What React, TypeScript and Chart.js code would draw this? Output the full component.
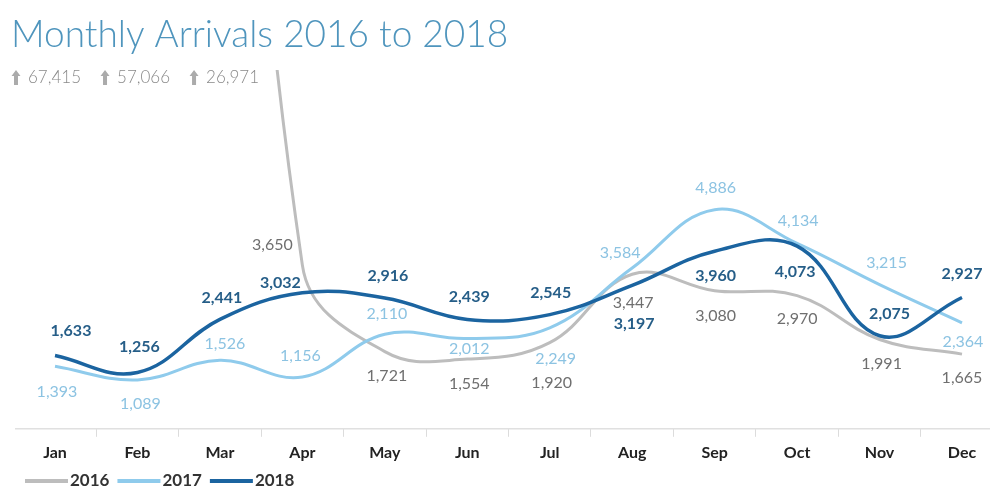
import React, { useEffect, useRef } from 'react';
import { Chart, registerables } from 'chart.js';

Chart.register(...registerables);

// ---- data ----
const months = ['Jan', 'Feb', 'Mar', 'Apr', 'May', 'Jun', 'Jul', 'Aug', 'Sep', 'Oct', 'Nov', 'Dec'];
const seriesNames = ['2016', '2017', '2018'];
const arrivals2016 = [67415, 57066, 26971, 3650, 1721, 1554, 1920, 3447, 3080, 2970, 1991, 1665];
const arrivals2017 = [1393, 1089, 1526, 1156, 2110, 2012, 2249, 3584, 4886, 4134, 3215, 2364];
const arrivals2018 = [1633, 1256, 2441, 3032, 2916, 2439, 2545, 3197, 3960, 4073, 2075, 2927];
const yMin = 0;
const yMax = 8000;
const titleText = 'Monthly Arrivals 2016 to 2018';

// ---- label placement (relative offsets from each point) ----
const labelOffsets2016: [number, number][] = [
  [0, 0], [0, 0], [0, 0], [-30, -20], [2, 24], [2, 25], [2, 40], [1, 29], [1, 25], [0, 23], [2, 24], [0, 24],
];
const labelOffsets2017: [number, number][] = [
  [2, 26], [3, 24], [5, -17], [-2, -21], [2, -20], [2, 10], [6, 31], [-12, -15], [1, -22], [1, -23], [7, -22], [1, 19],
];
const labelOffsets2018: [number, number][] = [
  [16, -25], [2, -26], [2, -21], [-22, -10], [3, -22], [2, -23], [1, -22], [2, 38], [1, 25], [-2, 26], [10, -22], [0, -24],
];

const lineColors = ['#bdbdbd', '#8fcbec', '#1b64a0'];
const labelColors = ['#6f6f6f', '#8cc3e2', '#265e88'];
const labelWeights = ['400', '400', '700'];
const lineWidths = [3, 3, 3.5];
const allOffsets = [labelOffsets2016, labelOffsets2017, labelOffsets2018];

const fmt = (v: number) => v.toLocaleString('en-US');

const decorPlugin = {
  id: 'decor',
  beforeDraw(chart: any) {
    const { ctx, width, height } = chart;
    ctx.save();
    ctx.fillStyle = '#ffffff';
    ctx.fillRect(0, 0, width, height);
    ctx.restore();
  },
  beforeDatasetsDraw(chart: any) {
    const { ctx, chartArea } = chart;
    ctx.save();
    ctx.strokeStyle = '#e0e0e0';
    ctx.lineWidth = 1.5;
    ctx.beginPath();
    ctx.moveTo(15, chartArea.bottom);
    ctx.lineTo(990, chartArea.bottom);
    ctx.stroke();
    ctx.restore();
  },
  afterDatasetsDraw(chart: any) {
    const { ctx } = chart;
    ctx.save();
    // title
    ctx.font = '300 37px Lato';
    ctx.fillStyle = '#4f95bd';
    ctx.textAlign = 'left';
    ctx.textBaseline = 'alphabetic';
    ctx.fillText(titleText, 11, 47);

    // off-chart values (above the axis maximum) shown with up arrows
    const yScale = chart.scales.y;
    let ax = 12;
    const ay = 78;
    chart.data.datasets.forEach((ds: any) => {
      ds.data.forEach((v: number) => {
        if (v > yScale.max) {
          ctx.fillStyle = '#ababab';
          ctx.beginPath();
          ctx.moveTo(ax + 4, ay - 8);
          ctx.lineTo(ax + 8.5, ay - 2);
          ctx.lineTo(ax + 6, ay - 2);
          ctx.lineTo(ax + 6, ay + 7);
          ctx.lineTo(ax + 2, ay + 7);
          ctx.lineTo(ax + 2, ay - 2);
          ctx.lineTo(ax - 0.5, ay - 2);
          ctx.closePath();
          ctx.fill();
          ctx.font = '300 17px Lato';
          ctx.fillStyle = '#8a8a8a';
          ctx.textBaseline = 'middle';
          const t = fmt(v);
          ctx.fillText(t, ax + 16, ay);
          ax += 16 + ctx.measureText(t).width + 20;
        }
      });
    });

    // data labels
    chart.data.datasets.forEach((ds: any, di: number) => {
      const meta = chart.getDatasetMeta(di);
      ctx.font = `${labelWeights[di]} 16px Lato`;
      ctx.fillStyle = labelColors[di];
      ctx.textAlign = 'center';
      ctx.textBaseline = 'middle';
      meta.data.forEach((pt: any, i: number) => {
        const v = ds.data[i];
        if (v > yScale.max || v < yScale.min) return;
        const [dx, dy] = allOffsets[di][i];
        ctx.fillText(fmt(v), pt.x + dx, pt.y + dy);
      });
    });

    // legend
    let lx = 25;
    const ly = 481;
    chart.data.datasets.forEach((ds: any, di: number) => {
      ctx.strokeStyle = lineColors[di];
      ctx.lineWidth = 4;
      ctx.beginPath();
      ctx.moveTo(lx, ly);
      ctx.lineTo(lx + 43, ly);
      ctx.stroke();
      ctx.font = '700 17px Lato';
      ctx.fillStyle = '#333333';
      ctx.textAlign = 'left';
      ctx.textBaseline = 'middle';
      ctx.fillText(ds.label, lx + 45, ly);
      lx += 45 + ctx.measureText(ds.label).width + 8;
    });
    ctx.restore();
  },
};

export default function App() {
  const ref = useRef<HTMLCanvasElement | null>(null);
  useEffect(() => {
    if (!ref.current) return;
    const seriesData = [arrivals2016, arrivals2017, arrivals2018];
    const chart = new Chart(ref.current, {
      type: 'line',
      data: {
        labels: months,
        datasets: seriesNames.map((name, i) => ({
          label: name,
          data: seriesData[i],
          borderColor: lineColors[i],
          backgroundColor: lineColors[i],
          borderWidth: lineWidths[i],
          pointRadius: 0,
          tension: 0.4,
          fill: false,
          order: 3 - i,
        })),
      },
      options: {
        animation: false,
        responsive: true,
        maintainAspectRatio: false,
        layout: { padding: { left: 55, right: 30, top: 70, bottom: 18 } },
        plugins: {
          legend: { display: false },
          title: { display: false },
          tooltip: { enabled: false },
        },
        scales: {
          x: {
            offset: false,
            border: { display: false },
            grid: {
              display: true,
              offset: true,
              drawOnChartArea: false,
              drawTicks: true,
              tickLength: 8,
              color: '#dcdcdc',
            },
            ticks: {
              padding: 6,
              color: '#222222',
              font: { family: 'Lato', size: 16, weight: 'bold' },
              maxRotation: 0,
              autoSkip: false,
            },
          },
          y: {
            display: false,
            min: yMin,
            max: yMax,
          },
        },
      },
      plugins: [decorPlugin],
    });
    return () => chart.destroy();
  }, []);
  return (
    <div style={{ position: 'fixed', left: 0, top: 0, width: 992, height: 486, background: '#fff' }}>
      <canvas ref={ref} />
    </div>
  );
}
